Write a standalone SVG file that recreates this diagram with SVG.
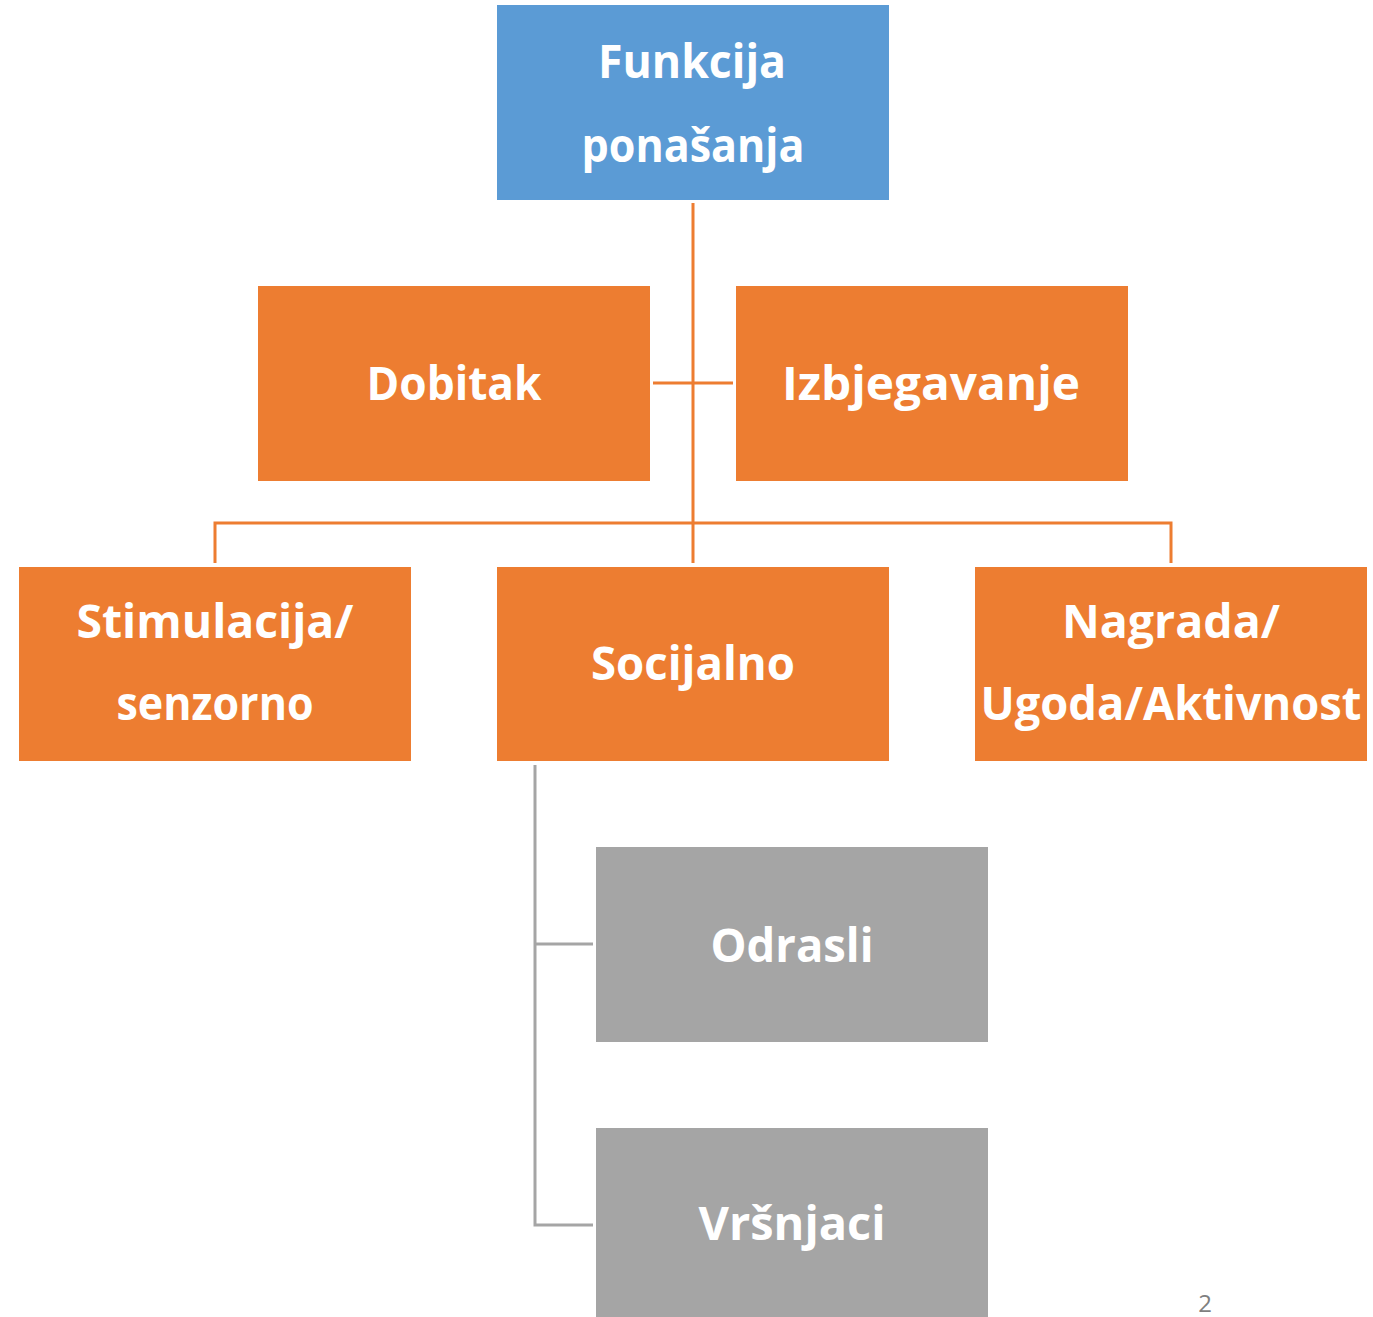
<svg xmlns="http://www.w3.org/2000/svg" width="1373" height="1317" viewBox="0 0 1373 1317">
<style>
.blue{fill:#5B9BD5}
.orange{fill:#ED7D31}
.gray{fill:#A5A5A5}
.lbl{font-family:"Comic Sans MS","Open Sans","DejaVu Sans",sans-serif;font-weight:bold;font-size:46px;fill:#FFFFFF;text-anchor:middle}
.oc{stroke:#ED7D31;stroke-width:3;fill:none}
.gc{stroke:#A5A5A5;stroke-width:3;fill:none}
.pg{font-family:"Open Sans","Liberation Sans",sans-serif;font-size:24px;fill:#7F7F7F;text-anchor:middle}
</style>
<rect width="1373" height="1317" fill="#FFFFFF"/>
<g id="connectors">
<path class="oc" d="M693,203 V563"/>
<path class="oc" d="M653,383 H733"/>
<path class="oc" d="M215,563 V523 H1171 V563"/>
<path class="gc" d="M535,765 V1225 H593"/>
<path class="gc" d="M535,944 H593"/>
</g>
<g id="funkcija">
<rect class="blue" x="497" y="5" width="392" height="195"/>
<text class="lbl" x="692" y="78" textLength="188" lengthAdjust="spacingAndGlyphs">Funkcija</text>
<text class="lbl" x="693" y="162" textLength="223" lengthAdjust="spacingAndGlyphs">ponašanja</text>
</g>
<g id="dobitak">
<rect class="orange" x="258" y="286" width="392" height="195"/>
<text class="lbl" x="454" y="400" textLength="175" lengthAdjust="spacingAndGlyphs">Dobitak</text>
</g>
<g id="izbjegavanje">
<rect class="orange" x="736" y="286" width="392" height="195"/>
<text class="lbl" x="931" y="400" textLength="298" lengthAdjust="spacingAndGlyphs">Izbjegavanje</text>
</g>
<g id="stimulacija">
<rect class="orange" x="19" y="567" width="392" height="194"/>
<text class="lbl" x="215" y="638" textLength="277" lengthAdjust="spacingAndGlyphs">Stimulacija/</text>
<text class="lbl" x="215" y="720" textLength="197" lengthAdjust="spacingAndGlyphs">senzorno</text>
</g>
<g id="socijalno">
<rect class="orange" x="497" y="567" width="392" height="194"/>
<text class="lbl" x="693" y="680" textLength="204" lengthAdjust="spacingAndGlyphs">Socijalno</text>
</g>
<g id="nagrada">
<rect class="orange" x="975" y="567" width="392" height="194"/>
<text class="lbl" x="1171" y="638" textLength="218" lengthAdjust="spacingAndGlyphs">Nagrada/</text>
<text class="lbl" x="1171" y="720" textLength="381" lengthAdjust="spacingAndGlyphs">Ugoda/Aktivnost</text>
</g>
<g id="odrasli">
<rect class="gray" x="596" y="847" width="392" height="195"/>
<text class="lbl" x="792" y="962" textLength="163" lengthAdjust="spacingAndGlyphs">Odrasli</text>
</g>
<g id="vrsnjaci">
<rect class="gray" x="596" y="1128" width="392" height="195"/>
<text class="lbl" x="792" y="1240" textLength="187" lengthAdjust="spacingAndGlyphs">Vršnjaci</text>
</g>
<text class="pg" x="1205" y="1312">2</text>
</svg>
